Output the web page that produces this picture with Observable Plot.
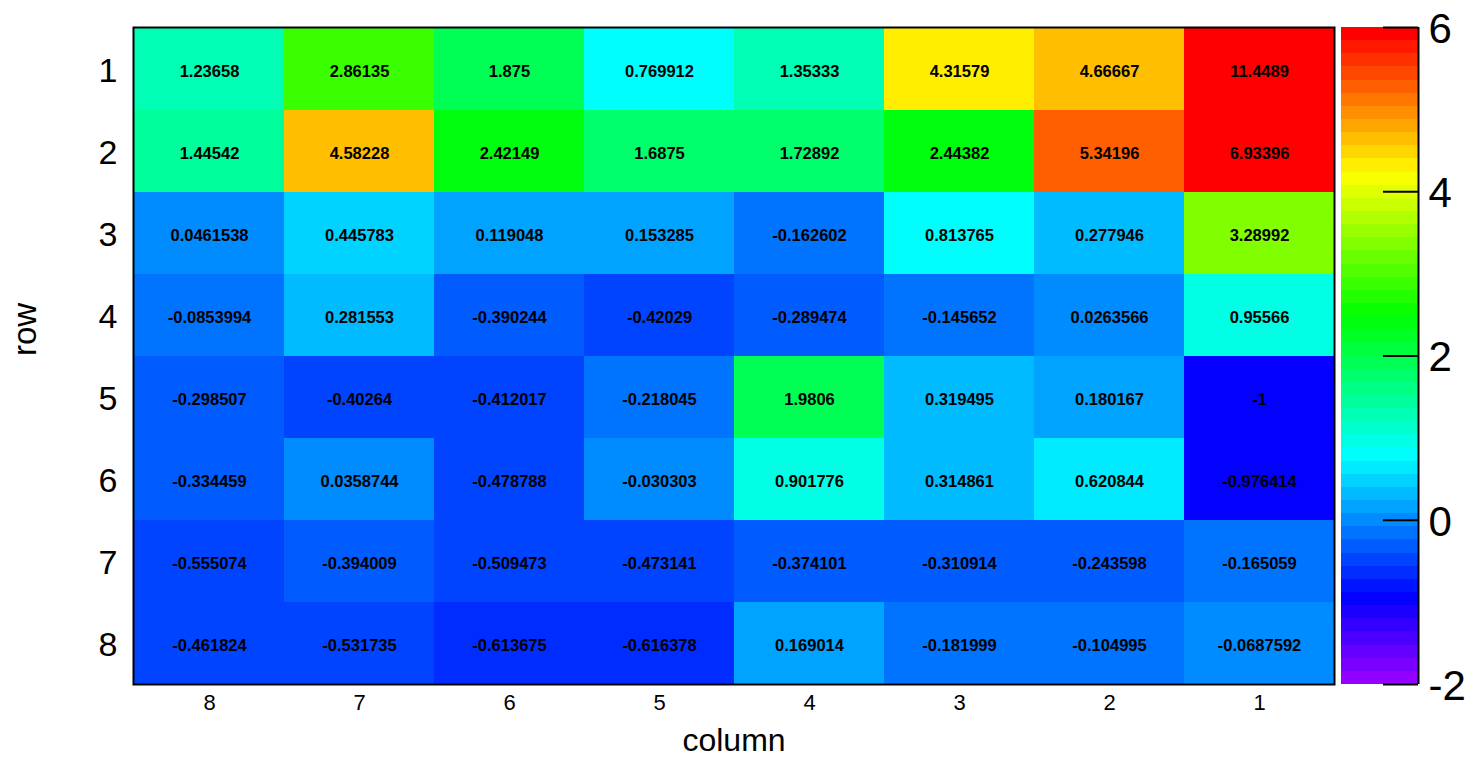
<!DOCTYPE html>
<html>
<head>
<meta charset="utf-8">
<script src="https://cdn.jsdelivr.net/npm/d3@7"></script>
<script src="https://cdn.jsdelivr.net/npm/@observablehq/plot@0.6"></script>
<style>
  html, body { margin: 0; padding: 0; background: #fff; }
  #wrap { position: relative; width: 1475px; height: 758px; overflow: hidden; font-family: "Liberation Sans", Arial, sans-serif; }
  #wrap svg { position: absolute; top: 0; background: transparent; }
</style>
</head>
<body>
<div id="wrap"></div>
<script>
// Columns as displayed left to right, rows top to bottom
const columns = ["8", "7", "6", "5", "4", "3", "2", "1"];
const rows = ["1", "2", "3", "4", "5", "6", "7", "8"];

const row1 = [1.23658, 2.86135, 1.875, 0.769912, 1.35333, 4.31579, 4.66667, 11.4489];
const row2 = [1.44542, 4.58228, 2.42149, 1.6875, 1.72892, 2.44382, 5.34196, 6.93396];
const row3 = [0.0461538, 0.445783, 0.119048, 0.153285, -0.162602, 0.813765, 0.277946, 3.28992];
const row4 = [-0.0853994, 0.281553, -0.390244, -0.42029, -0.289474, -0.145652, 0.0263566, 0.95566];
const row5 = [-0.298507, -0.40264, -0.412017, -0.218045, 1.9806, 0.319495, 0.180167, -1];
const row6 = [-0.334459, 0.0358744, -0.478788, -0.030303, 0.901776, 0.314861, 0.620844, -0.976414];
const row7 = [-0.555074, -0.394009, -0.509473, -0.473141, -0.374101, -0.310914, -0.243598, -0.165059];
const row8 = [-0.461824, -0.531735, -0.613675, -0.616378, 0.169014, -0.181999, -0.104995, -0.0687592];
const rowValues = [row1, row2, row3, row4, row5, row6, row7, row8];

// Color axis
const zMin = -2;
const zMax = 6;
const nColors = 50;
const zTicks = [-2, 0, 2, 4, 6];

// ROOT "pretty palette": 50 HLS colours violet -> red
const step = (zMax - zMin) / nColors;
const paletteColors = d3.range(nColors).map(i =>
  i === nColors - 1 ? "#ff0000" : d3.hsl(280 - (i + 1) * (280 / nColors), 1, 0.5).formatHex()
);
const thresholds = d3.range(1, nColors).map(k => zMin + k * step);
const colorOpts = { type: "threshold", domain: thresholds, range: paletteColors, legend: false };

const cells = [];
rows.forEach((r, i) => columns.forEach((c, j) => cells.push({ row: r, col: c, value: rowValues[i][j] })));

const bands = d3.range(nColors).map(k => ({ lo: zMin + k * step, hi: zMin + (k + 1) * step, mid: zMin + (k + 0.5) * step }));

const font = "Liberation Sans, Arial, sans-serif";

const main = Plot.plot({
  width: 1475,
  height: 758,
  marginLeft: 133,
  marginRight: 141,
  marginTop: 27,
  marginBottom: 74,
  style: { fontFamily: font, background: "transparent" },
  x: { domain: columns, padding: 0, axis: null },
  y: { domain: rows, padding: 0, axis: null },
  color: colorOpts,
  marks: [
    Plot.cell(cells, { x: "col", y: "row", fill: "value", shapeRendering: "crispEdges" }),
    Plot.text(cells, { x: "col", y: "row", text: d => String(d.value), fill: "black", fontWeight: "bold", fontSize: 16.5, dy: 2 }),
    Plot.frame({ stroke: "black", strokeWidth: 2 }),
    Plot.text(columns, { x: d => d, frameAnchor: "bottom", dy: 25, text: d => d, fontSize: 22, fill: "black" }),
    Plot.text(rows, { y: d => d, frameAnchor: "left", dx: -16, textAnchor: "end", text: d => d, fontSize: 34, fill: "black", dy: 2 }),
    Plot.text(["column"], { frameAnchor: "bottom", dy: 66, text: d => d, fontSize: 32, fill: "black" }),
    Plot.text(["row"], { frameAnchor: "left", dx: -108, rotate: -90, text: d => d, fontSize: 33, fill: "black" })
  ]
});

const bar = Plot.plot({
  width: 134,
  height: 758,
  marginLeft: 0,
  marginRight: 57,
  marginTop: 27,
  marginBottom: 74,
  style: { fontFamily: font, background: "transparent", overflow: "visible" },
  x: { domain: [0, 1], axis: null },
  y: { domain: [zMin, zMax], axis: null },
  color: colorOpts,
  marks: [
    Plot.rect(bands, { x1: () => 0, x2: () => 1, y1: "lo", y2: "hi", fill: "mid", shapeRendering: "crispEdges" }),
    Plot.ruleX([1], { y1: () => zMin, y2: () => zMax, stroke: "black", strokeWidth: 2 }),
    Plot.ruleY(zTicks, { x1: () => 0.545, x2: () => 1, stroke: "black", strokeWidth: 2 }),
    Plot.text(zTicks, { x: () => 1, y: d => d, text: d => String(d), textAnchor: "start", dx: 10, dy: 2, fontSize: 42, fill: "black" })
  ]
});

const wrap = document.getElementById("wrap");
main.style.left = "0px";
bar.style.left = "1341px";
wrap.appendChild(main);
wrap.appendChild(bar);
</script>
</body>
</html>
